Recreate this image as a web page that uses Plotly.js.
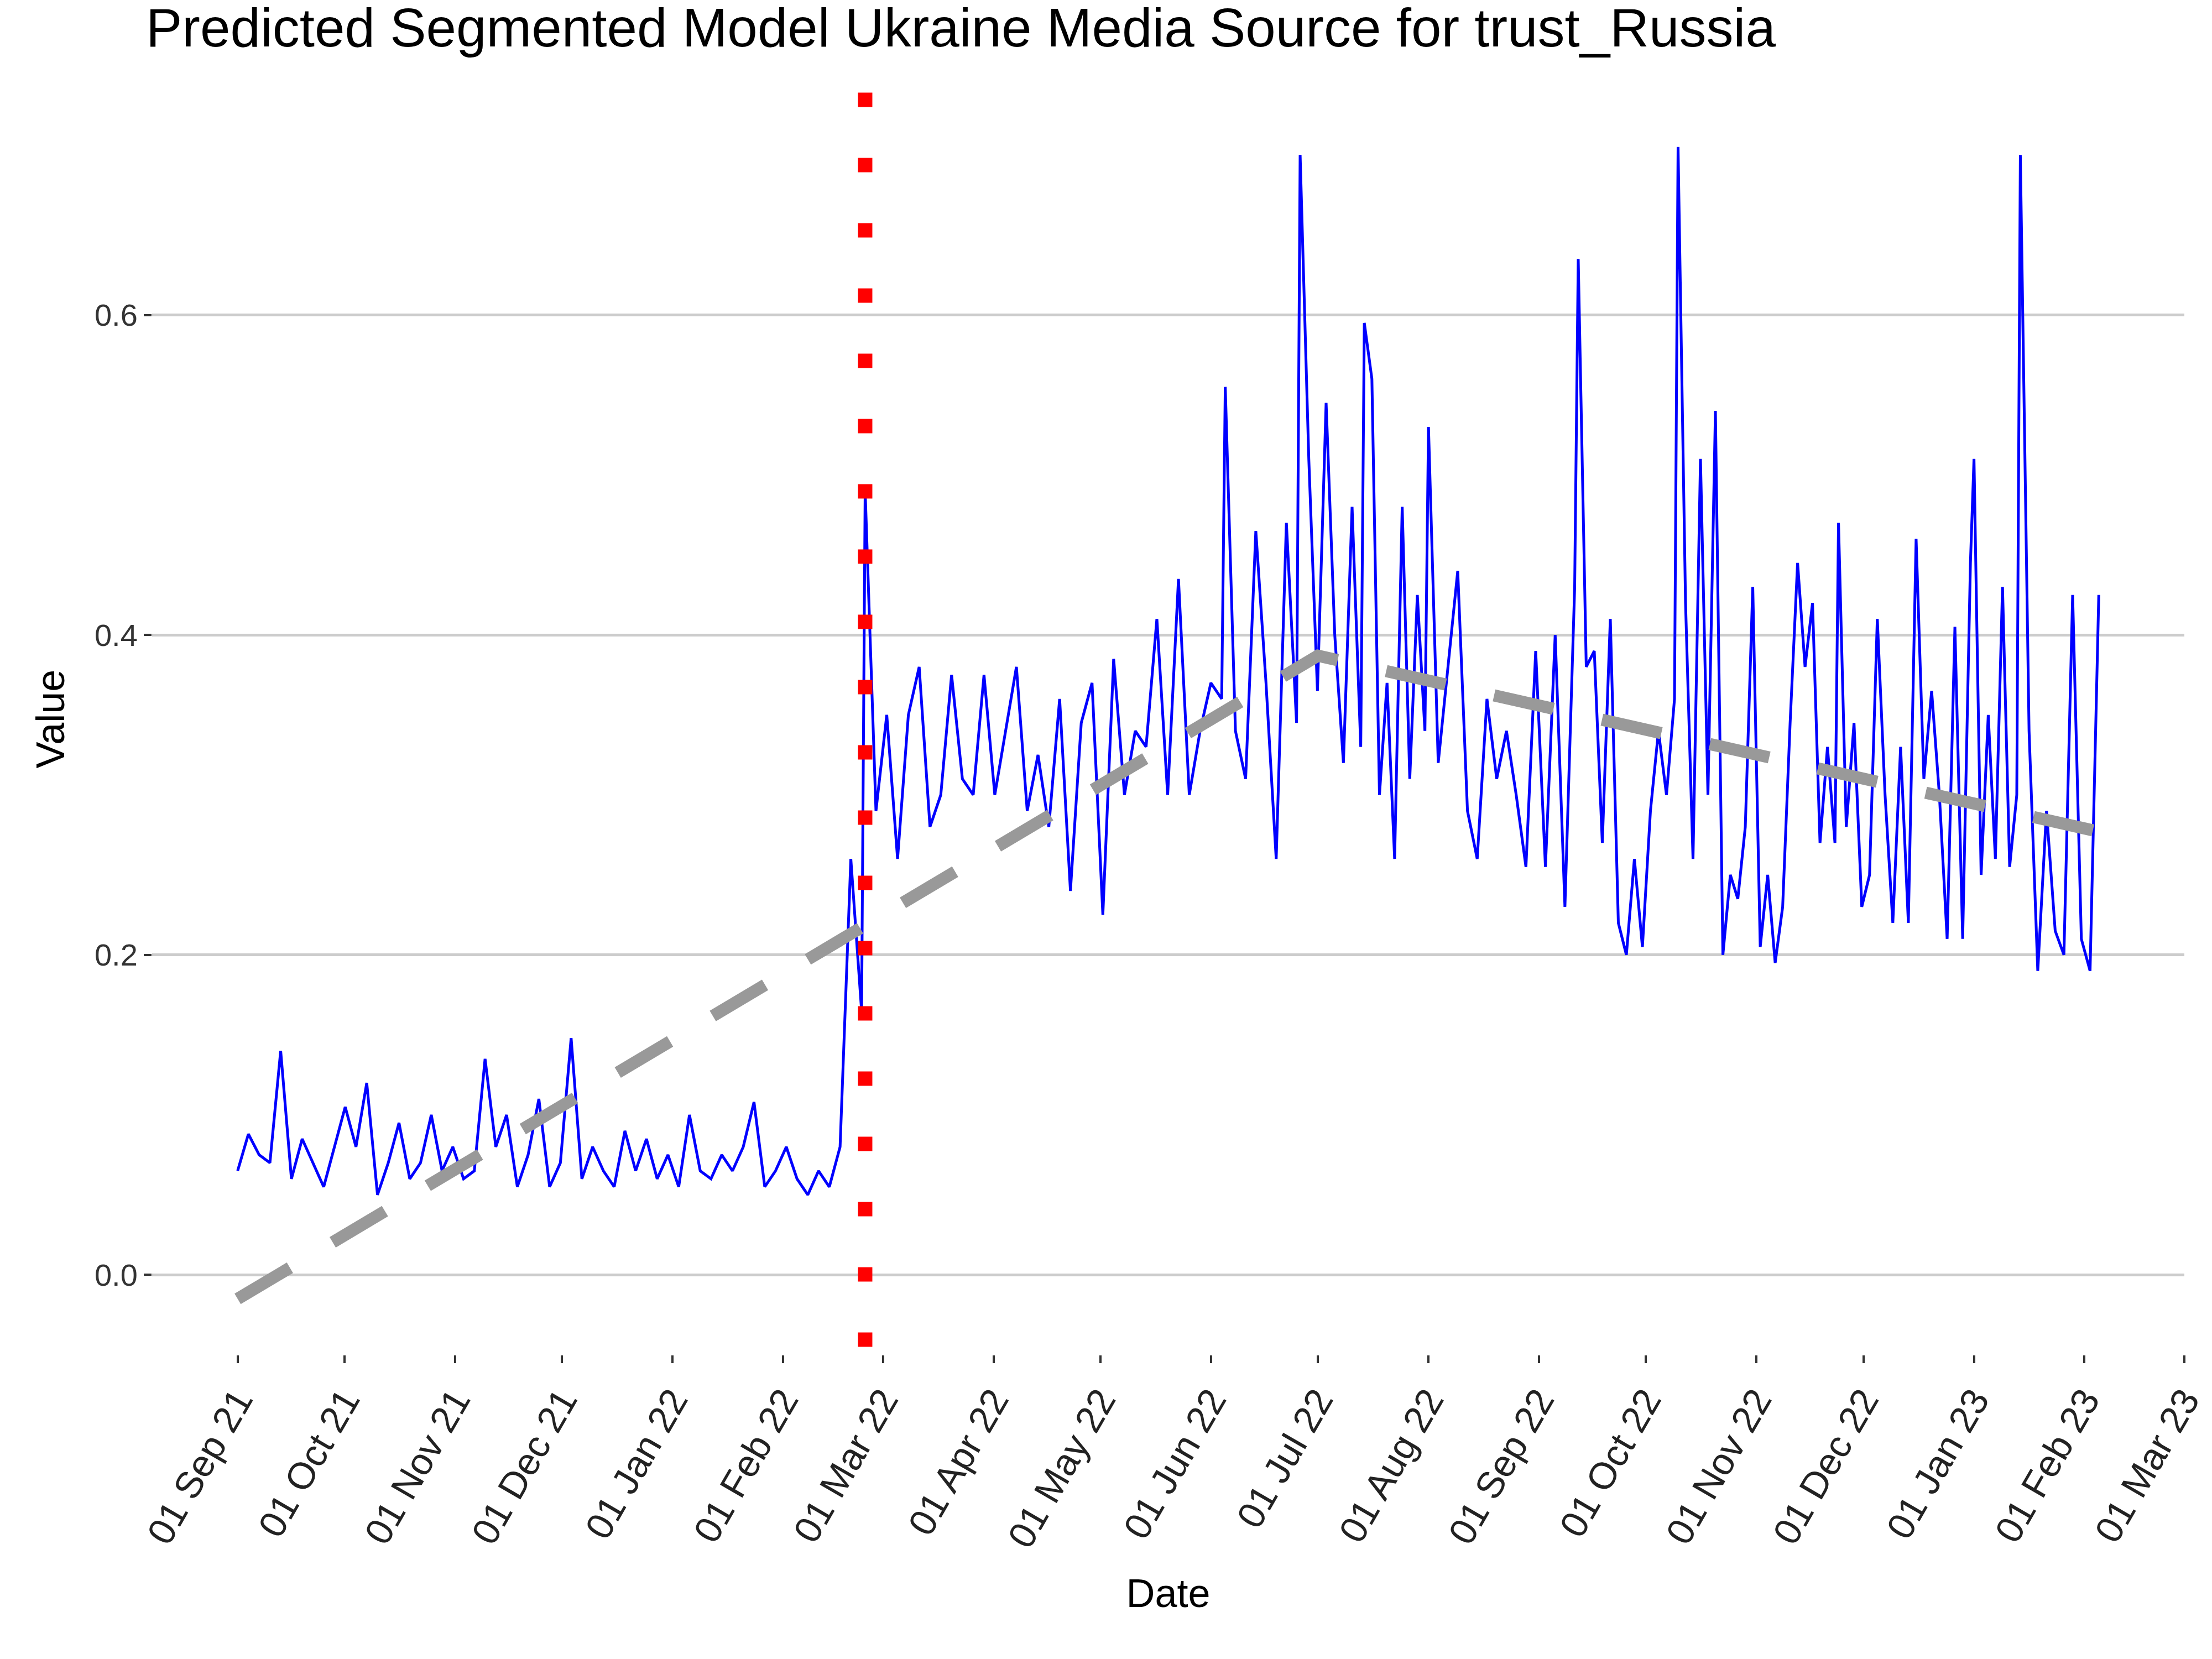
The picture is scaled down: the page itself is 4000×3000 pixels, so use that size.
<!DOCTYPE html>
<html>
<head>
<meta charset="utf-8">
<script src="https://cdn.plot.ly/plotly-3.0.1.min.js"></script>
<style>html,body{margin:0;padding:0;background:#fff}</style>
</head>
<body>
<div id="chart" style="width:4000px;height:3000px"></div>
<script>
// Observed series, in chunks; each chunk's values are spaced evenly between its dates
const preValues = [0.065,0.088,0.075,0.07,0.14,0.06,0.085,0.07,0.055,0.08,0.105,0.08,0.12,0.05,0.07,0.095,0.06,0.07,0.1,0.065,
  0.08,0.06,0.065,0.135,0.08,0.1,0.055,0.075,0.11,0.055,0.07,0.148,0.06,0.08,0.065,0.055,0.09,0.065,0.085,0.06,
  0.075,0.055,0.1,0.065,0.06,0.075,0.065,0.08,0.108,0.055,0.065,0.08,0.06,0.05,0.065,0.055,0.08,0.26,0.165];
const springValues = [0.49,0.29,0.35,0.26,0.35,0.38,0.28,0.30,0.375,0.31,0.30,
  0.375,0.30,0.34,0.38,0.29,0.325,0.28,0.36,0.24,0.345,
  0.37,0.225,0.385,0.30,0.34,0.33,0.41,0.30,0.435,0.30,0.34,0.37,0.36];
const juneValues = [0.555,0.34,0.31,0.465,0.37,0.26,0.47,0.345];
const lateJuneValues = [0.70,0.51,0.365,0.545,0.40,0.32,0.48,0.33];
const julyValues = [0.595,0.56,0.30,0.37,0.26,0.48,0.31,0.425,0.34];
const augustValues = [0.53,0.32,0.38,0.44,0.29,0.26,0.36,0.31,0.34,0.30,0.255,0.39,0.255,0.40,0.23,0.43];
const septemberValues = [0.635,0.38,0.39,0.27,0.41,0.22,0.20,0.26,0.205,0.29,0.34,0.30,0.36];
const octoberValues = [0.705,0.42,0.26,0.51,0.30,0.54,0.20,0.25,0.235,0.28,0.43,0.205,0.25,0.195,0.23,0.345,0.445,0.38,0.42,0.27,0.33,0.27];
const decemberValues = [0.47,0.28,0.345,0.23,0.25,0.41,0.30,0.22,0.33,0.22,0.46,0.31,0.365,0.30,0.21,0.405,0.21,0.445];
const januaryValues = [0.51,0.25,0.35,0.26,0.43,0.255,0.30];
const lateJanuaryValues = [0.70,0.34,0.19,0.29,0.215,0.20,0.425,0.21,0.19,0.425];

const chunks = [
  ['2021-09-01', '2022-02-23', preValues],
  ['2022-02-24', '2022-06-04', springValues],
  ['2022-06-05', '2022-06-25', juneValues],
  ['2022-06-26', '2022-07-13', lateJuneValues],
  ['2022-07-14', '2022-07-31', julyValues],
  ['2022-08-01', '2022-09-11', augustValues],
  ['2022-09-12', '2022-10-09', septemberValues],
  ['2022-10-10', '2022-11-23', octoberValues],
  ['2022-11-24', '2022-12-31', decemberValues],
  ['2023-01-01', '2023-01-13', januaryValues],
  ['2023-01-14', '2023-02-05', lateJanuaryValues],
];

// Segmented model fit (knots)
const fitDates = ['2021-09-01', '2022-07-01', '2023-02-05'];
const fitValues = [-0.015, 0.387, 0.277];

const breakDate = '2022-02-24';
const breakRange = [-0.045, 0.742];

const tickDates = ['2021-09-01','2021-10-01','2021-11-01','2021-12-01','2022-01-01','2022-02-01','2022-03-01',
  '2022-04-01','2022-05-01','2022-06-01','2022-07-01','2022-08-01','2022-09-01','2022-10-01','2022-11-01',
  '2022-12-01','2023-01-01','2023-02-01','2023-03-01'];

function spread(start, end, vals) {
  const a = Date.parse(start), b = Date.parse(end);
  return vals.map((_, i) => new Date(a + (b - a) * i / (vals.length - 1)).toISOString());
}

const xs = [], ys = [];
chunks.forEach(([s, e, v]) => { xs.push(...spread(s, e, v)); ys.push(...v); });

const traces = [
  { x: xs, y: ys, mode: 'lines', line: { color: '#0000ff', width: 5 } },
  {
    x: fitDates, y: fitValues, mode: 'lines',
    line: { color: '#999999', width: 22, dash: '110px,90px' },
  },
  {
    x: [breakDate, breakDate], y: breakRange, mode: 'lines',
    line: { color: '#ff0000', width: 26, dash: '26px,92px' },
  },
];

const layout = {
  width: 4000, height: 3000,
  paper_bgcolor: '#fff', plot_bgcolor: '#fff',
  showlegend: false,
  font: { family: 'Liberation Sans, Arial, sans-serif', color: '#000' },
  margin: { l: 275, r: 50, t: 150, b: 550 },
  title: { text: 'Predicted Segmented Model Ukraine Media Source for trust_Russia',
    x: 0.066, xanchor: 'left', y: 0.995, yanchor: 'top', font: { size: 98, color: '#000' } },
  xaxis: {
    type: 'date', range: ['2021-08-08', '2023-03-01'],
    tickvals: tickDates, tickformat: '%d %b %y', tickangle: -60,
    tickfont: { size: 68, color: '#222' },
    ticks: 'outside', ticklen: 14, tickwidth: 4, tickcolor: '#333',
    showgrid: false, zeroline: false, showline: false,
    title: { text: 'Date', font: { size: 72 }, standoff: 45 },
  },
  yaxis: {
    range: [-0.05, 0.745],
    tickvals: [0, 0.2, 0.4, 0.6], ticktext: ['0.0', '0.2', '0.4', '0.6'],
    tickfont: { size: 56, color: '#333' },
    ticks: 'outside', ticklen: 14, tickwidth: 4, tickcolor: '#333',
    gridcolor: '#cccccc', gridwidth: 5, zeroline: false, showline: false,
    title: { text: 'Value', font: { size: 72 }, standoff: 30 },
  },
};

Plotly.newPlot('chart', traces, layout, { displayModeBar: false, staticPlot: true });
</script>
</body>
</html>
